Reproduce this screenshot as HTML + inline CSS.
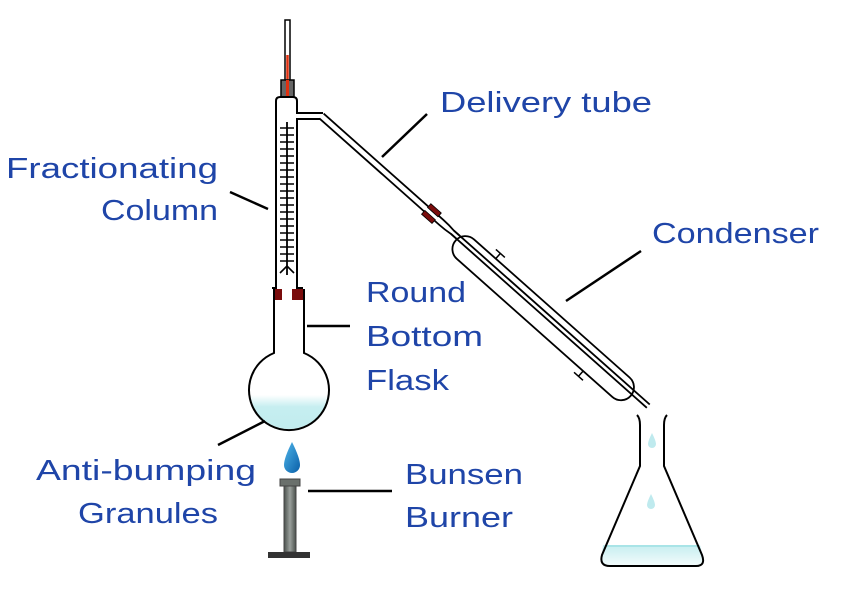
<!DOCTYPE html>
<html><head><meta charset="utf-8"><style>
html,body{margin:0;padding:0;background:#fff;}
svg{display:block}
text{font-family:"Liberation Sans",sans-serif;font-size:29px;fill:#1f45a8;}
</style></head><body>
<svg width="850" height="600" viewBox="0 0 850 600" xmlns="http://www.w3.org/2000/svg">
<defs>
<linearGradient id="liq" x1="0" y1="0" x2="0" y2="1">
<stop offset="0" stop-color="#fff"/><stop offset="0.3" stop-color="#c6eef0"/><stop offset="1" stop-color="#c0ecee"/>
</linearGradient>
<linearGradient id="liq2" x1="0" y1="0" x2="0" y2="1">
<stop offset="0" stop-color="#c6eef0"/><stop offset="1" stop-color="#f4fcfc"/>
</linearGradient>
<linearGradient id="drop" x1="0" y1="0" x2="1" y2="1">
<stop offset="0" stop-color="#4fb6ea"/><stop offset="1" stop-color="#0a5fa8"/>
</linearGradient>
<linearGradient id="stem" x1="0" y1="0" x2="1" y2="0">
<stop offset="0" stop-color="#4a504c"/><stop offset="0.5" stop-color="#9aa09c"/><stop offset="1" stop-color="#4a504c"/>
</linearGradient>
<clipPath id="bulb"><circle cx="289" cy="389" r="40"/></clipPath>
</defs>
<g fill="none" stroke="#000" stroke-width="2">
<rect x="285" y="20" width="5" height="80" fill="#fff" stroke-width="1.5"/>
<line x1="287.5" y1="55" x2="287.5" y2="103" stroke="#e03010" stroke-width="2.5"/>
<rect x="281" y="80" width="13" height="17" fill="#666" stroke-width="1.5"/>
<line x1="287.5" y1="80" x2="287.5" y2="103" stroke="#e03010" stroke-width="3"/>
<path d="M276 290 V101 Q276 97 280 97 H293 Q297 97 297 101 V113 H323" fill="#fff"/>
<path d="M297 290 V119 H320"/>
<line x1="287" y1="122" x2="287" y2="275" stroke-width="1.8"/>
<g stroke-width="1.6">
<path d="M280 128H294M280 135H294M280 142H294M280 149H294M280 156H294M280 163H294M280 170H294M280 177H294M280 184H294M280 191H294M280 198H294M280 205H294M280 212H294M280 219H294M280 226H294M280 233H294M280 240H294M280 247H294M280 254H294M280 261H294"/>
<path d="M280 273 L287 266 L294 273"/>
</g>
<path d="M277 288 H272 M297 288 H303" />
<rect x="273" y="289" width="9" height="11" fill="#7a0c0c" stroke="none"/>
<rect x="292" y="289" width="12" height="11" fill="#7a0c0c" stroke="none"/>
<rect x="249" y="395" width="80" height="40" fill="url(#liq)" stroke="none" clip-path="url(#bulb)"/>
<path d="M274 289 V353 A40 40 0 1 0 304 353 V289" />
<g transform="translate(321.5,116) rotate(41.6)">
<path d="M0 -3.2 H160 Q168 -3.2 175 -2.2 H183 M0 3.2 H160 Q168 3.2 175 2.2 H183" stroke-width="1.8"/>
<rect x="140" y="-7" width="14" height="5" fill="#7a0c0c" stroke="#000" stroke-width="0.8"/>
<rect x="140" y="2" width="14" height="5" fill="#7a0c0c" stroke="#000" stroke-width="0.8"/>
<rect x="183" y="-9" width="234" height="26" rx="13" fill="#fff" stroke-width="1.8"/>
<path d="M175 -2.2 H437 M175 2.2 H437" stroke-width="1.8"/>
<path d="M225 -9 V-16 M219 -16 H231" stroke-width="1.5"/>
<path d="M365 17 V24 M359 24 H371" stroke-width="1.5"/>
</g>
<path d="M603 545 H700 L704 560 Q704 566 698 566 H607 Q601 566 601 560 Z" fill="url(#liq2)" stroke="none"/>
<line x1="605" y1="546" x2="698" y2="546" stroke="#9ee0e4" stroke-width="1.5"/>
<path d="M637 415 Q640 418 640 425 V466 L602 555 Q599 566 610 566 H696 Q706 566 702 555 L664 466 V425 Q664 418 667 415" stroke-width="2"/>
<rect x="280" y="479" width="20" height="7" fill="#6a706c" stroke="#444" stroke-width="1"/>
<rect x="284" y="486" width="12" height="66" fill="url(#stem)" stroke="#444" stroke-width="1"/>
<rect x="268" y="552" width="42" height="6" fill="#333" stroke="none"/>
<g stroke-width="2.5">
<line x1="230" y1="192" x2="268" y2="209"/>
<line x1="382" y1="157" x2="427" y2="114"/>
<line x1="566" y1="301" x2="641" y2="251"/>
<line x1="307" y1="326" x2="350" y2="326"/>
<line x1="218" y1="445" x2="265" y2="421"/>
<line x1="308" y1="491" x2="392" y2="491"/>
</g>
</g>
<path d="M292 442 Q284 458 284 465 A8 8 0 0 0 300 465 Q300 458 292 442 Z" fill="url(#drop)"/>
<path d="M652 433 Q648 441 648 444 A4 4 0 0 0 656 444 Q656 441 652 433 Z" fill="#bfeaee"/>
<path d="M651 494 Q647 502 647 505 A4 4 0 0 0 655 505 Q655 502 651 494 Z" fill="#bfeaee"/>
<text x="440" y="112" textLength="212" lengthAdjust="spacingAndGlyphs">Delivery tube</text>
<text x="6" y="178" textLength="212" lengthAdjust="spacingAndGlyphs">Fractionating</text>
<text x="101" y="220" textLength="117" lengthAdjust="spacingAndGlyphs">Column</text>
<text x="652" y="243" textLength="167" lengthAdjust="spacingAndGlyphs">Condenser</text>
<text x="366" y="302" textLength="100" lengthAdjust="spacingAndGlyphs">Round</text>
<text x="366" y="346" textLength="117" lengthAdjust="spacingAndGlyphs">Bottom</text>
<text x="366" y="390" textLength="83" lengthAdjust="spacingAndGlyphs">Flask</text>
<text x="36" y="480" textLength="220" lengthAdjust="spacingAndGlyphs">Anti-bumping</text>
<text x="78" y="523" textLength="140" lengthAdjust="spacingAndGlyphs">Granules</text>
<text x="405" y="484" textLength="118" lengthAdjust="spacingAndGlyphs">Bunsen</text>
<text x="405" y="527" textLength="108" lengthAdjust="spacingAndGlyphs">Burner</text>
</svg>
</body></html>
